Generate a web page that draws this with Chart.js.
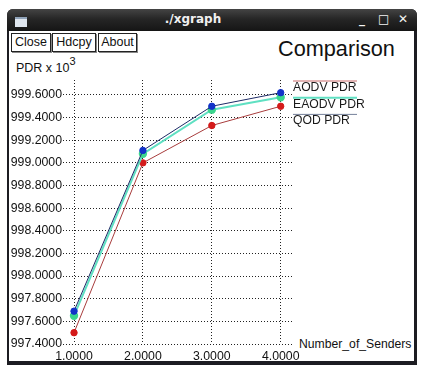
<!DOCTYPE html>
<html>
<head>
<meta charset="utf-8">
<script src="https://cdn.jsdelivr.net/npm/chart.js@4/dist/chart.umd.min.js"></script>
<style>
  body { margin:0; width:446px; height:368px; overflow:hidden; background:#fff; font-family:"Liberation Sans", Arial, sans-serif; }
  .frame { position:absolute; left:7px; top:9px; width:410px; height:356px; background:#1c1c22; border-radius:6px 6px 0 0; }
  .titlebar { position:absolute; left:7px; top:9px; width:410px; height:22px; border-radius:6px 6px 0 0;
    background:linear-gradient(#444 0%, #262626 45%, #151515 100%); }
  .titlebar .t { position:absolute; left:0; width:372px; top:3px; text-align:center; color:#f0f0f0;
    font:bold 12px "DejaVu Sans", sans-serif; }
  .titlebar .icon { position:absolute; left:8px; top:8px; width:12px; height:8px; background:#dfe6ee; border-top:2px solid #8fa2b8; }
  .titlebar .ctl { position:absolute; top:3px; color:#f4f4f4; font:bold 12px "DejaVu Sans", sans-serif; }
  .content { position:absolute; left:9px; top:31px; width:405px; height:330px; background:#fff; }
  .btn { position:absolute; top:33px; height:17px; border:1px solid #222; box-shadow:1px 1px 0 #888;
    font-size:12.5px; line-height:17px; text-align:center; color:#111; background:#fff; }
  .txt { position:absolute; color:#111; white-space:nowrap; }
  canvas { position:absolute; left:0; top:0; }
</style>
</head>
<body>
<div class="frame"></div>
<div class="titlebar">
  <div class="icon"></div>
  <div class="t">./xgraph</div>
  <div class="ctl" style="left:352px">_</div>
  <div class="ctl" style="left:371px">&#9633;</div>
  <div class="ctl" style="left:391px">&#10005;</div>
</div>
<div class="content"></div>
<div class="btn" style="left:11px;width:38px">Close</div>
<div class="btn" style="left:52px;width:42px">Hdcpy</div>
<div class="btn" style="left:98px;width:37px">About</div>
<div class="txt" style="left:278px;top:36px;font-size:21.7px">Comparison</div>
<div class="txt" style="left:16px;top:57px;font-size:12.5px">PDR x 10<sup style="font-size:11px;position:relative;top:-2px">3</sup></div>
<div class="txt" style="left:299px;top:337px;font-size:12.2px">Number_of_Senders</div>
<canvas id="c" width="446" height="368"></canvas>
<script>
const senders = [1, 2, 3, 4];
const aodvPdr  = [997.50, 999.00, 999.33, 999.50];
const eaodvPdr = [997.65, 999.08, 999.47, 999.58];
const qodPdr   = [997.69, 999.11, 999.50, 999.62];
const yTicks = [997.4, 997.6, 997.8, 998.0, 998.2, 998.4, 998.6, 998.8, 999.0, 999.2, 999.4, 999.6];

const pts = arr => arr.map((v, i) => ({ x: senders[i], y: v }));

// legend in xgraph style: a line over each label, right of the plot
const xgLegend = {
  id: 'xgLegend',
  afterDraw(chart) {
    const ctx = chart.ctx;
    const x0 = chart.chartArea.right + 1;
    ctx.save();
    chart.data.datasets.forEach((ds, i) => {
      const y = 81 + i * 16.7;
      ctx.strokeStyle = ds.legendColor;
      ctx.lineWidth = ds.borderWidth;
      ctx.beginPath(); ctx.moveTo(x0, y); ctx.lineTo(x0 + 64, y); ctx.stroke();
      ctx.fillStyle = '#1a1a1a';
      ctx.font = '12.2px "Liberation Sans", Arial, sans-serif';
      ctx.textBaseline = 'middle';
      ctx.fillText(ds.label, x0, y + 6.5);
    });
    ctx.restore();
  }
};

new Chart(document.getElementById('c').getContext('2d'), {
  type: 'line',
  data: {
    datasets: [
      { label: 'AODV PDR', data: pts(aodvPdr), borderColor: '#a83c3c', legendColor: '#c86a6a', borderWidth: 1,
        pointBackgroundColor: '#d41a1a', pointBorderColor: '#d41a1a', pointRadius: 3.2, order: 2 },
      { label: 'EAODV PDR', data: pts(eaodvPdr), borderColor: '#5fe0c2', legendColor: '#5fe0c2', borderWidth: 2,
        pointBackgroundColor: '#3bd68e', pointBorderColor: '#3bd68e', pointRadius: 3.2, order: 1 },
      { label: 'QOD PDR', data: pts(qodPdr), borderColor: '#1d2a66', legendColor: '#75809a', borderWidth: 1,
        pointBackgroundColor: '#1232c8', pointBorderColor: '#1232c8', pointRadius: 3.2, order: 0 }
    ]
  },
  options: {
    responsive: false,
    animation: false,
    events: [],
    layout: { padding: { left: 11, top: 80, right: 154, bottom: 6 } },
    plugins: { legend: { display: false }, tooltip: { enabled: false } },
    elements: { line: { tension: 0 } },
    scales: {
      x: {
        type: 'linear', min: 0.84, max: 4.164,
        afterBuildTicks: s => { s.ticks = senders.map(v => ({ value: v })); },
        afterFit: s => { s.height = 18; },
        grid: { color: '#222', drawTicks: false },
        border: { display: false, dash: [1, 2] },
        ticks: { padding: 5, color: '#111', font: { family: '"Liberation Sans", Arial, sans-serif', size: 12.3 },
          callback: v => v.toFixed(4), maxRotation: 0 }
      },
      y: {
        type: 'linear', min: 997.4, max: 999.732,
        afterBuildTicks: s => { s.ticks = yTicks.map(v => ({ value: v })); },
        afterFit: s => { s.width = 52; },
        grid: { color: '#222', drawTicks: false },
        border: { display: false, dash: [1, 2] },
        ticks: { padding: 1, color: '#111', font: { family: '"Liberation Sans", Arial, sans-serif', size: 12.3 },
          callback: v => v.toFixed(4) }
      }
    }
  },
  plugins: [xgLegend]
});
</script>
</body>
</html>
